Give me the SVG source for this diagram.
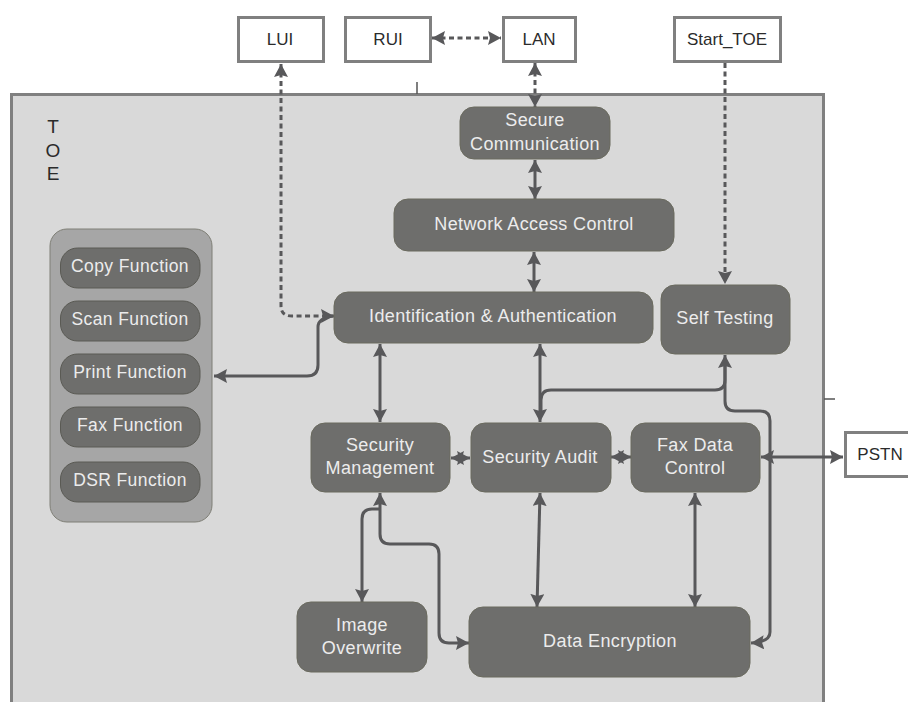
<svg xmlns="http://www.w3.org/2000/svg" width="908" height="702" viewBox="0 0 908 702">
<style>
text{font-family:"Liberation Sans",Arial,sans-serif;text-anchor:middle}
.ext{fill:#fff;stroke:#808080;stroke-width:3}
.ext-t{font-size:17px;fill:#2b2b2b}
.n{fill:#6e6e6c;stroke:#6a6a5e;stroke-width:1}
.p{fill:#6e6e6c;stroke:#5a5a54;stroke-width:1}
.t{font-size:18px;letter-spacing:.38px;fill:#ececec}
.f{font-size:17.5px;letter-spacing:.4px;fill:#ececec}
.c{fill:none;stroke:#58585a;stroke-width:3}
.d{fill:none;stroke:#58585a;stroke-width:3;stroke-dasharray:5 3.5}
</style>
<defs>
<marker id="a" markerUnits="userSpaceOnUse" markerWidth="16" markerHeight="16" refX="13" refY="7" orient="auto-start-reverse"><path d="M0 0L13 7L0 14L2 7Z" fill="#58585a"/></marker>
</defs>
<rect id="toe-box" x="11.500" y="94.500" width="812" height="620" fill="#d9d9d9" stroke="#808080" stroke-width="3"/>
<path d="M417 82V94M824 399H835" stroke="#555" stroke-width="1.500" fill="none"/>
<g id="toe-label" style="font-size:19px;fill:#2b2b2b"><text x="53" y="133">T</text><text x="53" y="157">O</text><text x="53" y="180">E</text></g>
<g id="connectors">
<path class="d" d="M281 64V306Q281 316 292 316H334" marker-start="url(#a)" marker-end="url(#a)"/>
<path class="d" d="M432 38H501" marker-start="url(#a)" marker-end="url(#a)"/>
<path class="d" d="M535 63V107" marker-start="url(#a)" marker-end="url(#a)"/>
<path class="d" d="M725 63V284" marker-end="url(#a)"/>
<path class="c" d="M535 160V199" marker-start="url(#a)" marker-end="url(#a)"/>
<path class="c" d="M534 252V292" marker-start="url(#a)" marker-end="url(#a)"/>
<path class="c" d="M214 376H307Q318 376 318 365V327Q318 318 333 316" marker-start="url(#a)"/>
<path class="c" d="M380 344V422" marker-start="url(#a)" marker-end="url(#a)"/>
<path class="c" d="M540 344V422" marker-start="url(#a)" marker-end="url(#a)"/>
<path class="c" d="M541 415V400Q541 390 551 390H715Q725 390 725 380V360"/>
<path class="c" d="M725 355V401Q725 411 735 411H760Q770 411 770 421V632Q770 642 751 643" marker-start="url(#a)" marker-end="url(#a)"/>
<path class="c" d="M451 458H470" marker-start="url(#a)" marker-end="url(#a)"/>
<path class="c" d="M611 457H631" marker-start="url(#a)" marker-end="url(#a)"/>
<path class="c" d="M761 457H843" marker-start="url(#a)" marker-end="url(#a)"/>
<path class="c" d="M540 493L537 607" marker-start="url(#a)" marker-end="url(#a)"/>
<path class="c" d="M695 493V607" marker-start="url(#a)" marker-end="url(#a)"/>
<path class="c" d="M362 602V519Q362 509 372 509H380" marker-start="url(#a)"/>
<path class="c" d="M380 493V534Q380 544 390 544H429Q439 544 439 554V633Q439 643 449 643H469" marker-start="url(#a)" marker-end="url(#a)"/>
</g>
<g id="lui"><rect class="ext" x="238.500" y="17.500" width="85" height="44"/><text class="ext-t" x="280" y="45">LUI</text></g>
<g id="rui"><rect class="ext" x="345.500" y="17.500" width="85" height="44"/><text class="ext-t" x="388" y="45">RUI</text></g>
<g id="lan"><rect class="ext" x="503.500" y="17.500" width="72" height="44"/><text class="ext-t" x="539" y="45">LAN</text></g>
<g id="start-toe"><rect class="ext" x="674.500" y="17.500" width="106" height="44"/><text class="ext-t" x="727" y="45">Start_TOE</text></g>
<g id="pstn"><rect class="ext" x="845.500" y="432.500" width="70" height="44"/><text class="ext-t" x="880" y="460">PSTN</text></g>
<g id="secure-communication"><rect class="n" x="460" y="107" width="150" height="52" rx="14"/><text class="t" x="535" y="126">Secure</text><text class="t" x="535" y="150">Communication</text></g>
<g id="network-access-control"><rect class="n" x="394" y="199" width="280" height="52" rx="14"/><text class="t" x="534" y="230">Network Access Control</text></g>
<g id="identification-authentication"><rect class="n" x="334" y="292" width="319" height="51" rx="14"/><text class="t" x="493" y="322">Identification &amp; Authentication</text></g>
<g id="self-testing"><rect class="n" x="661" y="285" width="129" height="69" rx="14"/><text class="t" x="725" y="324">Self Testing</text></g>
<g id="security-management"><rect class="n" x="311" y="423" width="139" height="69" rx="14"/><text class="t" x="380" y="451">Security</text><text class="t" x="380" y="474">Management</text></g>
<g id="security-audit"><rect class="n" x="471" y="423" width="140" height="69" rx="14"/><text class="t" x="540" y="463">Security Audit</text></g>
<g id="fax-data-control"><rect class="n" x="631" y="423" width="129" height="69" rx="14"/><text class="t" x="695" y="451">Fax Data</text><text class="t" x="695" y="474">Control</text></g>
<g id="image-overwrite"><rect class="n" x="297" y="602" width="130" height="70" rx="14"/><text class="t" x="362" y="631">Image</text><text class="t" x="362" y="654">Overwrite</text></g>
<g id="data-encryption"><rect class="n" x="469" y="607" width="281" height="70" rx="14"/><text class="t" x="610" y="647">Data Encryption</text></g>
<g id="functions">
<rect x="50" y="229" width="162" height="293" rx="17" fill="#a6a6a6" stroke="#7f7f76" stroke-width="1"/>
<g id="copy-function"><rect class="p" x="60.500" y="248" width="139.500" height="40" rx="17"/><text class="f" x="130" y="272">Copy Function</text></g>
<g id="scan-function"><rect class="p" x="60.500" y="301" width="139.500" height="40" rx="17"/><text class="f" x="130" y="325">Scan Function</text></g>
<g id="print-function"><rect class="p" x="60.500" y="354" width="139.500" height="40" rx="17"/><text class="f" x="130" y="378">Print Function</text></g>
<g id="fax-function"><rect class="p" x="60.500" y="407" width="139.500" height="40" rx="17"/><text class="f" x="130" y="431">Fax Function</text></g>
<g id="dsr-function"><rect class="p" x="60.500" y="462" width="139.500" height="40" rx="17"/><text class="f" x="130" y="486">DSR Function</text></g>
</g>
</svg>
